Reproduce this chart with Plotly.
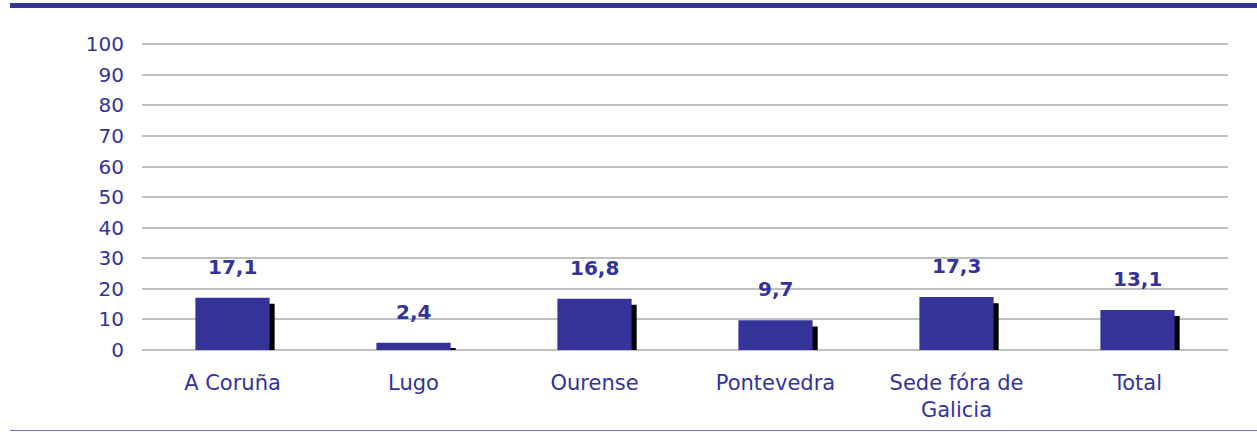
import plotly.graph_objects as go

categories = ["A Coruña", "Lugo", "Ourense", "Pontevedra", "Sede fóra de<br>Galicia", "Total"]
values = [17.1, 2.4, 16.8, 9.7, 17.3, 13.1]
labels = ["17,1", "2,4", "16,8", "9,7", "17,3", "13,1"]
y_ticks = list(range(0, 101, 10))

BLUE = "#333399"
FONT = "DejaVu Sans"
bar_w = 0.41
shadow_dx = 0.028
shadow_drop = 2.0

W, H = 1257, 432
L, R, T, B = 142, 29, 43, 82
PW, PH = W - L - R, H - T - B  # 1086 x 307

fig = go.Figure()
fig.add_trace(go.Bar(
    x=categories, y=[max(v - shadow_drop, 0) for v in values],
    width=bar_w, offset=-bar_w / 2 + shadow_dx,
    marker=dict(color="black", line=dict(width=0)),
    hoverinfo="skip", showlegend=False,
))
fig.add_trace(go.Bar(
    x=categories, y=values,
    width=bar_w, offset=-bar_w / 2,
    marker=dict(color=BLUE, line=dict(width=0)),
    showlegend=False,
))

for c, v, t in zip(categories, values, labels):
    fig.add_annotation(x=c, y=v, text="<b>" + t + "</b>", showarrow=False,
                       yanchor="middle", yshift=31,
                       font=dict(family=FONT, size=20, color=BLUE))

fig.update_layout(
    width=W, height=H,
    margin=dict(l=L, r=R, t=T, b=B, autoexpand=False),
    paper_bgcolor="white", plot_bgcolor="white",
    barmode="overlay",
    font=dict(family=FONT, size=20, color=BLUE),
    xaxis=dict(showgrid=False, showline=False, ticks="", tickfont=dict(size=21, color=BLUE),
               ticklabelstandoff=18, automargin=False),
    yaxis=dict(range=[0, 100.4], tickvals=y_ticks, showgrid=True, gridcolor="#c0c0c0",
               gridwidth=2, zeroline=True, zerolinecolor="#c0c0c0", zerolinewidth=2,
               showline=False, tickfont=dict(size=20, color=BLUE), ticklabelstandoff=17,
               automargin=False),
    shapes=[
        dict(type="line", xref="paper", yref="paper", x0=(10 - L) / PW, x1=1.05,
             y0=1 + (T - 5.5) / PH, y1=1 + (T - 5.5) / PH,
             line=dict(color=BLUE, width=5)),
        dict(type="line", xref="paper", yref="paper", x0=(10 - L) / PW, x1=1.05,
             y0=-(430.5 - (H - B)) / PH, y1=-(430.5 - (H - B)) / PH,
             line=dict(color="#7070b0", width=1)),
    ],
)

fig.write_html("out.html", config={"displayModeBar": False},
               post_script="document.body.style.margin='0';")
